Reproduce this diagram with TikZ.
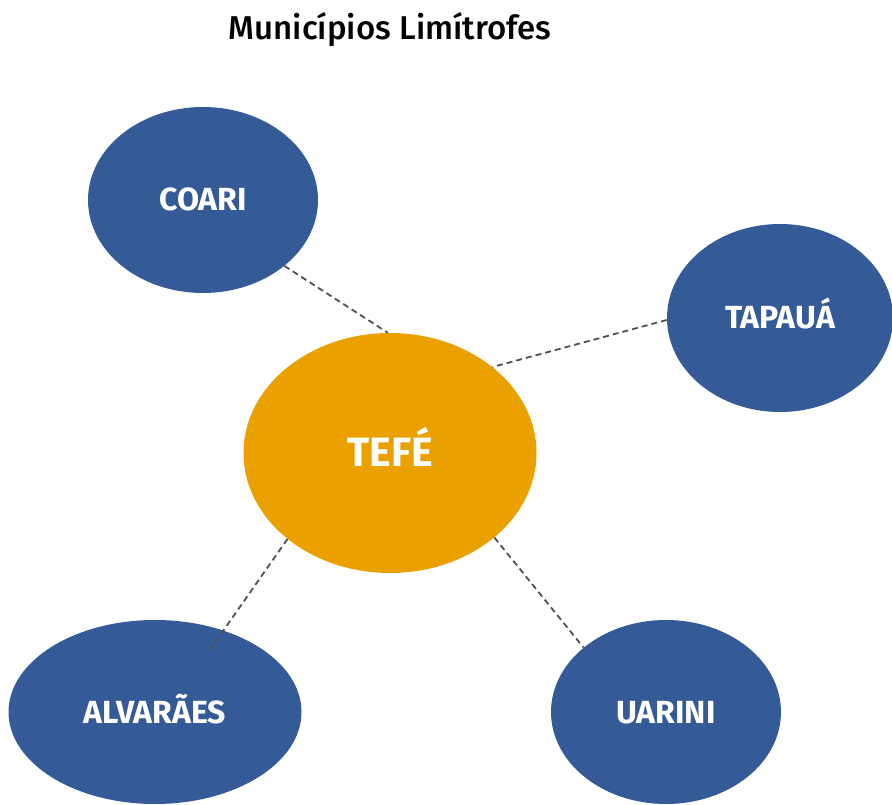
\documentclass[tikz,border=0pt]{standalone}
\usepackage{fontspec}
\setmainfont{Fira Sans}
\newfontfamily\titlefont{Fira Sans Medium}
\usepackage{tikz}
\usetikzlibrary{shapes.geometric}

\definecolor{cityblue}{RGB}{53,90,152}
\definecolor{hubgold}{RGB}{234,161,0}
\definecolor{linkgray}{RGB}{80,80,80}

\begin{document}
\begin{tikzpicture}[x=1pt, y=1pt,
   city/.style={ellipse, fill=cityblue, inner sep=0, text=white,
      text height=22pt, text depth=0pt,
      font=\fontsize{32}{36}\selectfont\bfseries},
   hub/.style={city, fill=hubgold, text height=28pt,
      font=\fontsize{41}{44}\selectfont\bfseries},
   link/.style={draw=linkgray, line width=1.8pt, dash pattern=on 6pt off 4pt}]
   \useasboundingbox (0,0) rectangle (892,804);
   \node (title) at (390,774) {\titlefont\fontsize{33}{36}\selectfont Municípios Limítrofes};
   \node (tefe) at (390,351) [hub, minimum width=293, minimum height=240] {TEFÉ};
   \node (coari) at (203,604) [city, minimum width=230, minimum height=186] {COARI};
   \node (tapaua) at (780,486) [city, minimum width=226, minimum height=188] {TAPAUÁ};
   \node (alvaraes) at (155,92) [city, minimum width=293, minimum height=184] {ALVARÃES};
   \node (uarini) at (666,92) [city, minimum width=230, minimum height=184] {UARINI};
   \draw (coari.-39)[link] -- (tefe.91);
   \draw (tapaua.181)[link] -- (tefe.40);
   \draw (tefe.-140)[link, shorten >=-23pt] -- (alvaraes.50);
   \draw (tefe.-39)[link] -- (uarini.142);

\end{tikzpicture}
\end{document}
